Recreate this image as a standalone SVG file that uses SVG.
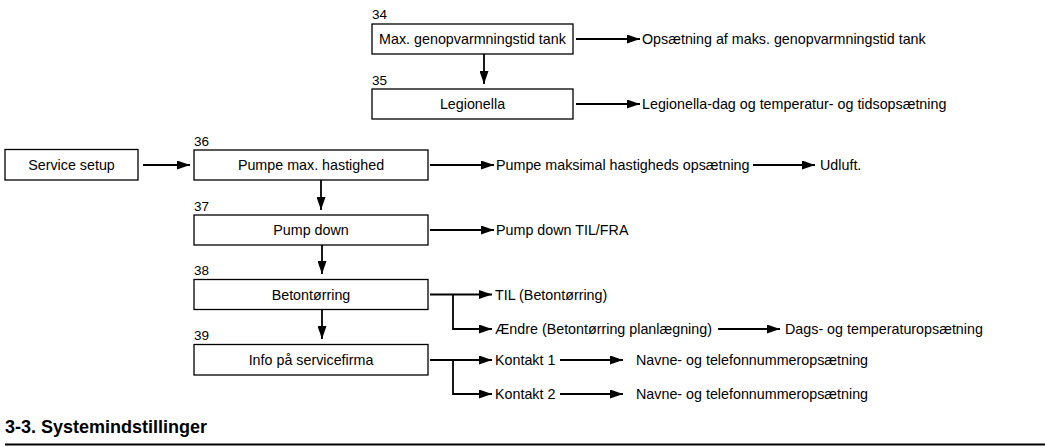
<svg xmlns="http://www.w3.org/2000/svg" width="1045" height="447" viewBox="0 0 1045 447">
  <style>
    .box { fill: #fff; stroke: #000; stroke-width: 1.3; }
    .t { font-family: "Liberation Sans", Arial, sans-serif; font-size: 14.3px; fill: #000; }
    .c { text-anchor: middle; }
    .num { font-family: "Liberation Sans", Arial, sans-serif; font-size: 13.5px; fill: #000; }
    .title { font-family: "Liberation Sans", Arial, sans-serif; font-size: 18px; font-weight: bold; fill: #000; }
    .wire { fill: none; stroke: #000; stroke-width: 1.8; }
  </style>
  <defs>
    <marker id="ah" viewBox="0 0 13 9" refX="13" refY="4.5" markerWidth="13" markerHeight="9" markerUnits="userSpaceOnUse" orient="auto">
      <path d="M0,0 L13,4.5 L0,9 Z" fill="#000"/>
    </marker>
  </defs>

  <rect width="1045" height="447" fill="#fff"/>

  <g id="n-service">
    <rect class="box" x="5" y="149.5" width="133" height="30.5"/>
    <text class="t c" x="71.5" y="170">Service setup</text>
  </g>

  <g id="n34">
    <text class="num" x="372" y="19">34</text>
    <rect class="box" x="372" y="24" width="201" height="30"/>
    <text class="t c" x="472.5" y="44">Max. genopvarmningstid tank</text>
    <text class="t" x="642" y="44">Opsætning af maks. genopvarmningstid tank</text>
  </g>

  <g id="n35">
    <text class="num" x="372" y="85">35</text>
    <rect class="box" x="372" y="89" width="201" height="30"/>
    <text class="t c" x="472.5" y="109">Legionella</text>
    <text class="t" x="642" y="109">Legionella-dag og temperatur- og tidsopsætning</text>
  </g>

  <g id="n36">
    <text class="num" x="194" y="146">36</text>
    <rect class="box" x="194" y="150" width="234" height="30"/>
    <text class="t c" x="311" y="170">Pumpe max. hastighed</text>
    <text class="t" x="496" y="170">Pumpe maksimal hastigheds opsætning</text>
    <text class="t" x="820" y="170">Udluft.</text>
  </g>

  <g id="n37">
    <text class="num" x="194" y="211">37</text>
    <rect class="box" x="194" y="215" width="234" height="30"/>
    <text class="t c" x="311" y="235">Pump down</text>
    <text class="t" x="496" y="235">Pump down TIL/FRA</text>
  </g>

  <g id="n38">
    <text class="num" x="194" y="275">38</text>
    <rect class="box" x="194" y="279.5" width="234" height="30"/>
    <text class="t c" x="311" y="299.5">Betontørring</text>
    <text class="t" x="495" y="299.5">TIL (Betontørring)</text>
    <text class="t" x="495" y="334">Ændre (Betontørring planlægning)</text>
    <text class="t" x="785" y="334">Dags- og temperaturopsætning</text>
  </g>

  <g id="n39">
    <text class="num" x="194" y="340">39</text>
    <rect class="box" x="194" y="344.5" width="234" height="30.5"/>
    <text class="t c" x="311" y="365">Info på servicefirma</text>
    <text class="t" x="495" y="365">Kontakt 1</text>
    <text class="t" x="636" y="365">Navne- og telefonnummeropsætning</text>
    <text class="t" x="495" y="399">Kontakt 2</text>
    <text class="t" x="636" y="399">Navne- og telefonnummeropsætning</text>
  </g>

  <g id="connectors">
    <!-- vertical chain -->
    <line class="wire" x1="484" y1="54" x2="484" y2="84" marker-end="url(#ah)"/>
    <line class="wire" x1="321" y1="180" x2="321" y2="210" marker-end="url(#ah)"/>
    <line class="wire" x1="322" y1="245" x2="322" y2="274" marker-end="url(#ah)"/>
    <line class="wire" x1="322" y1="309.5" x2="322" y2="339" marker-end="url(#ah)"/>
    <!-- into the service menu -->
    <line class="wire" x1="143" y1="165" x2="190" y2="165" marker-end="url(#ah)"/>
    <!-- outputs -->
    <line class="wire" x1="576" y1="39" x2="640" y2="39" marker-end="url(#ah)"/>
    <line class="wire" x1="576" y1="104" x2="640" y2="104" marker-end="url(#ah)"/>
    <line class="wire" x1="430" y1="165" x2="494" y2="165" marker-end="url(#ah)"/>
    <line class="wire" x1="753" y1="165" x2="815" y2="165" marker-end="url(#ah)"/>
    <line class="wire" x1="430" y1="230" x2="494" y2="230" marker-end="url(#ah)"/>
    <!-- concrete drying branch -->
    <line class="wire" x1="430" y1="294.5" x2="492" y2="294.5" marker-end="url(#ah)"/>
    <polyline class="wire" points="453,294.5 453,329 492,329" marker-end="url(#ah)"/>
    <line class="wire" x1="718" y1="329" x2="780" y2="329" marker-end="url(#ah)"/>
    <!-- service company branch -->
    <line class="wire" x1="430" y1="360" x2="492" y2="360" marker-end="url(#ah)"/>
    <polyline class="wire" points="453,360 453,394 492,394" marker-end="url(#ah)"/>
    <line class="wire" x1="560" y1="360" x2="623" y2="360" marker-end="url(#ah)"/>
    <line class="wire" x1="560" y1="394" x2="623" y2="394" marker-end="url(#ah)"/>
  </g>

  <text class="title" x="5" y="433">3-3. Systemindstillinger</text>
  <line x1="5" y1="444.5" x2="1045" y2="444.5" stroke="#000" stroke-width="2"/>
</svg>
